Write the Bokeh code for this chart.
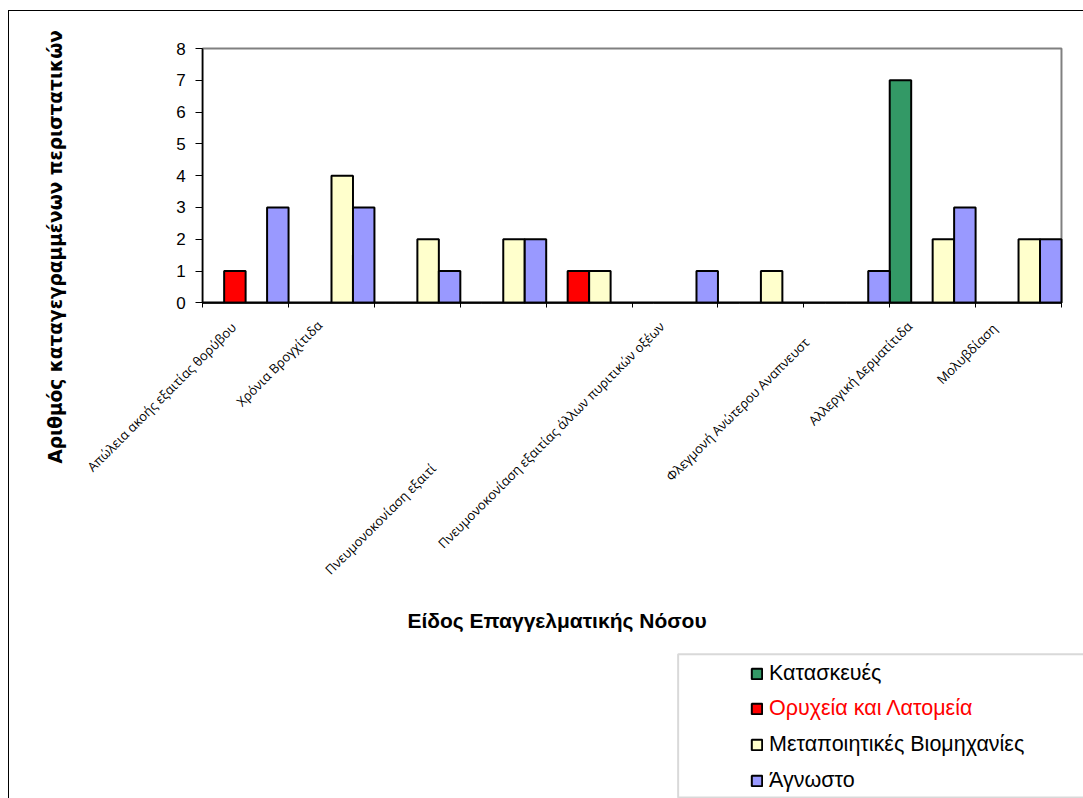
import numpy as np
from bokeh.plotting import figure
from bokeh.models import (ColumnDataSource, FixedTicker, Range1d, LabelSet, Label,
                          Legend, LegendItem, BoxAnnotation, InlineStyleSheet)
from bokeh.transform import dodge
from bokeh.core.properties import value
from bokeh.embed import file_html
from bokeh.resources import INLINE

# ---------------- data ----------------
tick_labels = ["Απώλεια ακοής εξαιτίας θορύβου", "Χρόνια Βρογχίτιδα", "Πνευμονοκονίαση εξαιτί",
               "", "", "Πνευμονοκονίαση εξαιτίας άλλων πυριτικών οξέων", "",
               "Φλεγμονή Ανώτερου Αναπνευστ", "Αλλεργική Δερματίτιδα", "Μολυβδίαση"]
series_names = ["Κατασκευές", "Ορυχεία και Λατομεία", "Μεταποιητικές Βιομηχανίες", "Άγνωστο"]
kataskeves    = [0, 0, 0, 0, 0, 0, 0, 0, 7, 0]
orycheia      = [1, 0, 0, 0, 1, 0, 0, 0, 0, 0]
metapoiitikes = [0, 4, 2, 2, 1, 0, 1, 0, 2, 2]
agnosto       = [3, 3, 1, 2, 0, 1, 0, 1, 3, 2]
y_ticks = [0, 1, 2, 3, 4, 5, 6, 7, 8]
y_title = "Αριθμός καταγεγραμμένων περιστατικών"
x_title = "Είδος Επαγγελματικής Νόσου"

# ---------------- layout / style (pixels in the window) ----------------
colors = ["#339966", "#FF0000", "#FFFFCC", "#9999FF"]
legend_text_colors = ["black", "#FF0000", "black", "black"]
label_shift_x = [-12, -12, 16, 0, 0, -13, 0, -40, -23, -24]
label_shift_y = [-22, -20, -163, 0, 0, -21, 0, -37, -21, -23]
CANVAS_L, CANVAS_T, CANVAS_R, CANVAS_B = 9, 11, 1083, 798
PLOT_L, PLOT_T, PLOT_R, PLOT_B = 202, 48, 1060, 302

n = len(tick_labels)
ymax = y_ticks[-1]

def dx(px):
    return (px - PLOT_L) * n / (PLOT_R - PLOT_L)

def dy(py):
    return (PLOT_B - py) * ymax / (PLOT_B - PLOT_T)

xc = np.arange(n) + 0.5
src = ColumnDataSource(dict(x=xc, k=kataskeves, o=orycheia, m=metapoiitikes, a=agnosto))

p = figure(width=1075, height=788,
           x_range=Range1d(dx(CANVAS_L), dx(CANVAS_R)), y_range=Range1d(dy(CANVAS_B), dy(CANVAS_T)),
           output_backend="svg", toolbar_location=None,
           min_border_left=0, min_border_right=0, min_border_top=0, min_border_bottom=0)
p.margin = (10, 0, 0, 8)
p.stylesheets = [InlineStyleSheet(css=":host { border-left: 1px solid black; border-top: 1px solid black; }")]
p.background_fill_color = "white"
p.border_fill_color = "white"
p.outline_line_color = None
p.xgrid.visible = False
p.ygrid.visible = False

# plot-area border (grey)
p.quad(left=0, right=n, bottom=0, top=ymax, fill_color=None, line_color="#808080", line_width=2)

cols = ["k", "o", "m", "a"]
offsets = [-0.375, -0.125, 0.125, 0.375]
renderers = []
for col, off, c in zip(cols, offsets, colors):
    r = p.vbar(x=dodge("x", off, range=p.x_range), top=col, width=0.25, source=src,
               fill_color=c, line_color="black", line_width=2)
    renderers.append(r)

# axes fixed at the data origin
p.xaxis.fixed_location = 0
p.xaxis.bounds = (0, n)
p.xaxis.ticker = FixedTicker(ticks=list(range(n + 1)))
p.xaxis.major_label_overrides = {i: "" for i in range(n + 1)}
p.xaxis.major_label_text_font_size = "1px"
p.xaxis.major_tick_out = 5
p.xaxis.major_tick_in = 0
p.xaxis.minor_tick_line_color = None
p.xaxis.axis_line_color = "black"
p.xaxis.axis_line_width = 1.5
p.xaxis.major_tick_line_color = "black"

p.yaxis.fixed_location = 0
p.yaxis.bounds = (0, ymax)
p.yaxis.ticker = FixedTicker(ticks=y_ticks)
p.yaxis.major_tick_out = 7
p.yaxis.major_tick_in = 0
p.yaxis.minor_tick_line_color = None
p.yaxis.axis_line_color = "black"
p.yaxis.axis_line_width = 1.5
p.yaxis.major_tick_line_color = "black"
p.yaxis.major_label_text_font = "Liberation Sans"
p.yaxis.major_label_text_font_size = "17px"
p.yaxis.major_label_text_color = "black"
p.yaxis.major_label_standoff = 10

# category labels
lab = ColumnDataSource(dict(
    x=[xc[i] for i in range(n) if tick_labels[i]],
    t=[t for t in tick_labels if t],
    ox=[label_shift_x[i] for i in range(n) if tick_labels[i]],
    oy=[label_shift_y[i] for i in range(n) if tick_labels[i]],
))
p.add_layout(LabelSet(x="x", y=0, text="t", source=lab, angle=np.pi / 4,
                      x_offset="ox", y_offset="oy", text_align="right", text_baseline="middle",
                      text_font=value("Open Sans"), text_font_size="13px", text_color="black"))

# titles
p.add_layout(Label(x=dx(55), y=dy(246), text=y_title, angle=np.pi / 2,
                   text_align="center", text_baseline="middle", text_font="DejaVu Sans",
                   text_font_style="bold", text_font_size="18.5px", text_color="black"))
p.add_layout(Label(x=dx(556), y=dy(619), text=x_title,
                   text_align="center", text_baseline="middle", text_font="Liberation Sans",
                   text_font_style="bold", text_font_size="21px", text_color="black"))

# legend box
p.add_layout(BoxAnnotation(left=dx(677), right=dx(1100), top=dy(653), bottom=dy(796),
                           fill_alpha=0, line_color="#808080", line_width=2, propagate_hover=False))

def mk_legend(items, color, top_px):
    h = 24 * len(items) + 11 * (len(items) - 1)
    lg = Legend(items=items, location=(750 - CANVAS_L, CANVAS_B - (top_px + h)), orientation="vertical",
                label_text_font="Liberation Sans", label_text_font_size="21.5px",
                label_text_color=color, glyph_width=13, glyph_height=13, label_height=24,
                label_standoff=6, spacing=11, padding=0, margin=0,
                border_line_color=None, background_fill_alpha=0)
    p.add_layout(lg, "center")

mk_legend([LegendItem(label=series_names[0], renderers=[renderers[0]])], legend_text_colors[0], 661)
mk_legend([LegendItem(label=series_names[1], renderers=[renderers[1]])], legend_text_colors[1], 696)
mk_legend([LegendItem(label=series_names[2], renderers=[renderers[2]]),
           LegendItem(label=series_names[3], renderers=[renderers[3]])], legend_text_colors[2], 733)

open("out.html", "w").write(file_html(p, INLINE))
